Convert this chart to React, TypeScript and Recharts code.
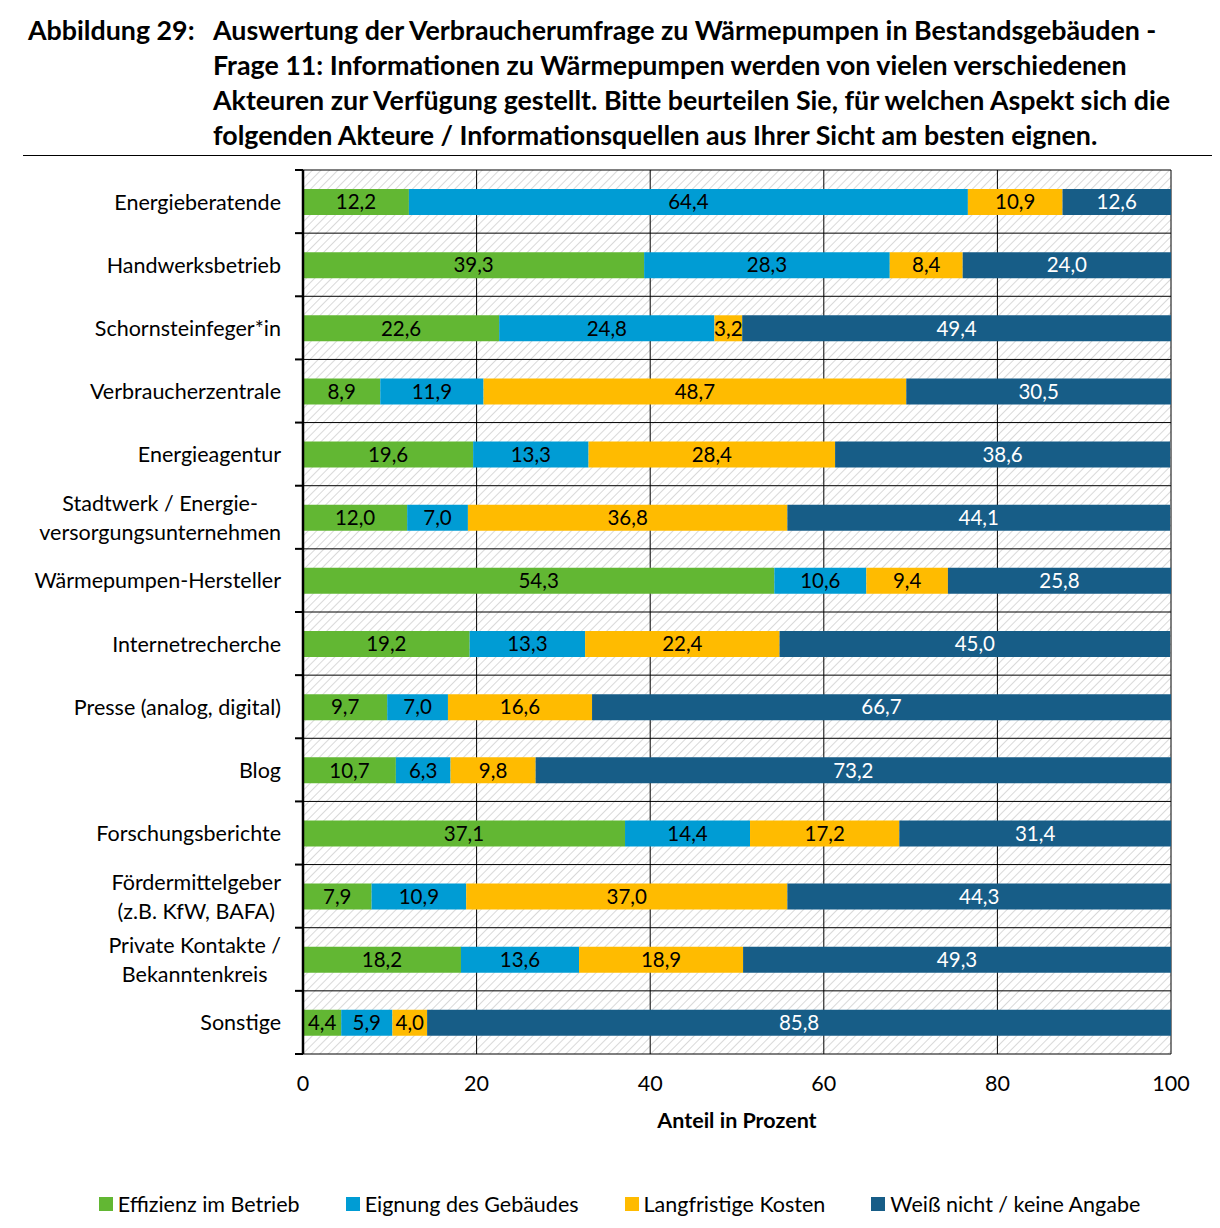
import React from 'react';
import { BarChart, Bar, XAxis, YAxis, CartesianGrid, Legend, LabelList } from 'recharts';

const categories = [
  'Energieberatende',
  'Handwerksbetrieb',
  'Schornsteinfeger*in',
  'Verbraucherzentrale',
  'Energieagentur',
  'Stadtwerk / Energie-\nversorgungsunternehmen',
  'Wärmepumpen-Hersteller',
  'Internetrecherche',
  'Presse (analog, digital)',
  'Blog',
  'Forschungsberichte',
  'Fördermittelgeber\n(z.B. KfW, BAFA)',
  'Private Kontakte /\nBekanntenkreis',
  'Sonstige',
];

const effizienz = [12.2, 39.3, 22.6, 8.9, 19.6, 12.0, 54.3, 19.2, 9.7, 10.7, 37.1, 7.9, 18.2, 4.4];
const eignung = [64.4, 28.3, 24.8, 11.9, 13.3, 7.0, 10.6, 13.3, 7.0, 6.3, 14.4, 10.9, 13.6, 5.9];
const kosten = [10.9, 8.4, 3.2, 48.7, 28.4, 36.8, 9.4, 22.4, 16.6, 9.8, 17.2, 37.0, 18.9, 4.0];
const weissNicht = [12.6, 24.0, 49.4, 30.5, 38.6, 44.1, 25.8, 45.0, 66.7, 73.2, 31.4, 44.3, 49.3, 85.8];

const seriesNames = ['Effizienz im Betrieb', 'Eignung des Gebäudes', 'Langfristige Kosten', 'Weiß nicht / keine Angabe'];
const seriesKeys = ['eff', 'eig', 'kost', 'wn'];
const colors = ['#62b733', '#009cd4', '#ffbb00', '#175d87'];
const labelColors = ['#000', '#000', '#000', '#fff'];

const xTicks = [0, 20, 40, 60, 80, 100];
const rowEdges = [0, 1, 2, 3, 4, 5, 6, 7, 8, 9, 10, 11, 12, 13, 14];

const data = categories.map((name, i) => ({
  name,
  eff: effizienz[i],
  eig: eignung[i],
  kost: kosten[i],
  wn: weissNicht[i],
}));

const FONT = 'Lato, "Noto Sans", sans-serif';
const LABEL_SIZE = 21.5;

let ctx: CanvasRenderingContext2D | null = null;
const measure = (s: string) => {
  if (!ctx) ctx = document.createElement('canvas').getContext('2d');
  if (!ctx) return s.length * 10;
  ctx.font = `${LABEL_SIZE}px ${FONT}`;
  return ctx.measureText(s).width;
};

const fmt = (v: any) => Number(v).toFixed(1).replace('.', ',');

// category label plus the small tick marks at the row boundaries
const CategoryTick = (props: any) => {
  const { x, y, payload, index } = props;
  const half = payload.offset || 0;
  const lines = String(payload.value).split('\n');
  const right = x - 22;
  const marks = (
    <>
      <line x1={x - 8} x2={x} y1={y - half} y2={y - half} stroke="#000" strokeWidth={2} />
      {index === categories.length - 1 && (
        <line x1={x - 8} x2={x} y1={y + half} y2={y + half} stroke="#000" strokeWidth={2} />
      )}
    </>
  );
  if (lines.length === 1) {
    return (
      <g>
        {marks}
        <text x={right} y={y} textAnchor="end" dominantBaseline="central" fontSize={LABEL_SIZE} fontFamily={FONT} fill="#000">
          {lines[0]}
        </text>
      </g>
    );
  }
  const w = Math.max(...lines.map(measure));
  const cx = right - w / 2;
  return (
    <g>
      {marks}
      <text textAnchor="middle" dominantBaseline="central" fontSize={LABEL_SIZE} fontFamily={FONT} fill="#000">
        {lines.map((l, i) => (
          <tspan key={i} x={cx} y={y + (i - (lines.length - 1) / 2) * 29}>
            {l}
          </tspan>
        ))}
      </text>
    </g>
  );
};

// horizontal grid lines between the rows, from the y axis range
const rowBoundaries = (args: any) => {
  const { yAxis, offset } = args || {};
  const s = yAxis && yAxis.scale;
  const n = categories.length;
  let top = offset ? offset.top : 0;
  let h = offset ? offset.height : 0;
  try {
    if (s && typeof s.range === 'function') {
      const r = s.range();
      top = Math.min(r[0], r[1]);
      h = Math.abs(r[1] - r[0]);
    }
  } catch (e) {
    // keep offset values
  }
  return rowEdges.map((i) => top + (i * h) / n);
};

const LegendContent = () => (
  <div
    style={{
      display: 'flex',
      justifyContent: 'center',
      alignItems: 'flex-end',
      gap: 46,
      height: 86,
      paddingLeft: 60,
      paddingBottom: 4,
      boxSizing: 'border-box',
      fontFamily: FONT,
      fontSize: LABEL_SIZE,
      color: '#000',
    }}
  >
    {seriesNames.map((n, i) => (
      <div key={n} style={{ display: 'flex', alignItems: 'center', lineHeight: '24px', whiteSpace: 'nowrap' }}>
        <span style={{ display: 'inline-block', width: 14, height: 14, background: colors[i], marginRight: 5 }} />
        {n}
      </div>
    ))}
  </div>
);

export default function App() {
  const titleStyle: React.CSSProperties = {
    position: 'absolute',
    top: 5,
    fontWeight: 700,
    fontSize: 26.8,
    lineHeight: '35px',
    whiteSpace: 'nowrap',
  };
  return (
    <div style={{ position: 'relative', width: 1204, height: 1212, fontFamily: FONT }}>
      <div style={{ ...titleStyle, left: 20 }}>Abbildung 29:</div>
      <div style={{ ...titleStyle, left: 205 }}>
        Auswertung der Verbraucherumfrage zu Wärmepumpen in Bestandsgebäuden -<br />
        Frage 11: Informationen zu Wärmepumpen werden von vielen verschiedenen<br />
        Akteuren zur Verfügung gestellt. Bitte beurteilen Sie, für welchen Aspekt sich die<br />
        folgenden Akteure / Informationsquellen aus Ihrer Sicht am besten eignen.
      </div>
      <div style={{ position: 'absolute', left: 15, top: 147, width: 1190, height: 1, background: '#000' }} />
      <div style={{ position: 'absolute', left: 0, top: 152 }}>
        <BarChart
          width={1204}
          height={1060}
          data={data}
          layout="vertical"
          margin={{ top: 10, right: 41, left: 0, bottom: 0 }}
        >
          <defs>
            <pattern id="hatch" width="6" height="6" patternUnits="userSpaceOnUse" patternTransform="rotate(45)">
              <line x1="0" y1="0" x2="0" y2="6" stroke="#c4c4c4" strokeWidth="1.3" />
            </pattern>
          </defs>
          <CartesianGrid
            stroke="#000"
            strokeWidth={1}
            fill="url(#hatch)"
            fillOpacity={1}
            horizontalCoordinatesGenerator={rowBoundaries}
          />
          <XAxis
            type="number"
            domain={[0, 100]}
            ticks={xTicks}
            allowDataOverflow
            axisLine={false}
            tickLine={false}
            tickSize={0}
            tickMargin={22}
            height={80}
            tick={{ fontSize: LABEL_SIZE, fill: '#000', fontFamily: FONT }}
            label={{ value: 'Anteil in Prozent', position: 'insideBottom', offset: 6, fontSize: LABEL_SIZE, fontWeight: 700, fill: '#000', fontFamily: FONT }}
          />
          <YAxis
            type="category"
            dataKey="name"
            width={295}
            axisLine={{ stroke: '#000', strokeWidth: 2.5 }}
            tickLine={false}
            tickSize={0}
            tickMargin={0}
            interval={0}
            tick={(p: any) => <CategoryTick {...p} />}
          />
          <Legend verticalAlign="bottom" height={86} content={() => <LegendContent />} />
          {seriesKeys.map((k, i) => (
            <Bar key={k} dataKey={k} name={seriesNames[i]} stackId="a" fill={colors[i]} barSize={26} isAnimationActive={false}>
              <LabelList dataKey={k} position="center" formatter={fmt} fill={labelColors[i]} fontSize={20.5} fontFamily={FONT} />
            </Bar>
          ))}
        </BarChart>
      </div>
    </div>
  );
}
